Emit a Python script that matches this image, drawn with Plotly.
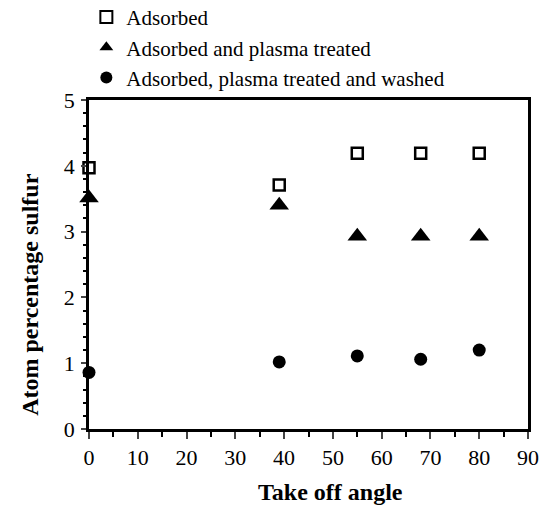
import plotly.graph_objects as go

angles = [0, 39, 55, 68, 80]
adsorbed = [3.97, 3.71, 4.19, 4.19, 4.19]
plasma = [3.51, 3.40, 2.93, 2.93, 2.93]
washed = [0.86, 1.02, 1.11, 1.06, 1.20]
names = ["Adsorbed", "Adsorbed and plasma treated", "Adsorbed, plasma treated and washed"]
x_ticks = [0, 10, 20, 30, 40, 50, 60, 70, 80, 90]
y_ticks = [0, 1, 2, 3, 4, 5]
x_title = "Take off angle"
y_title = "Atom percentage sulfur"

FONT = "Liberation Serif, Times New Roman, serif"

fig = go.Figure()
fig.add_trace(go.Scatter(x=angles, y=adsorbed, mode="markers", name=names[0],
                         marker=dict(symbol="square-open", size=11, color="black", line=dict(width=2.5)),
                         cliponaxis=False))
fig.add_trace(go.Scatter(x=angles, y=plasma, mode="markers", name=names[1],
                         marker=dict(symbol="triangle-up", size=17, color="black"),
                         cliponaxis=False))
fig.add_trace(go.Scatter(x=angles, y=washed, mode="markers", name=names[2],
                         marker=dict(symbol="circle", size=13, color="black"),
                         cliponaxis=False))

fig.update_layout(
    width=544, height=508,
    margin=dict(l=89, r=16, t=100, b=79, autoexpand=False),
    paper_bgcolor="white", plot_bgcolor="white",
    font=dict(family=FONT, size=22, color="black"),
    showlegend=True,
    legend=dict(x=-0.006, y=1.16, xanchor="left", yanchor="middle",
                font=dict(family=FONT, size=21, color="black"),
                bgcolor="rgba(0,0,0,0)", tracegroupgap=0, itemsizing="constant"),
    xaxis=dict(range=[0, 90], tickvals=x_ticks, ticks="outside", ticklen=7, tickwidth=2,
               showline=True, linewidth=2.5, linecolor="black", mirror=True,
               showgrid=False, zeroline=False,
               minor=dict(ticks="outside", dtick=5, ticklen=5, tickwidth=2, tickcolor="black"),
               tickfont=dict(family=FONT, size=22)),
    yaxis=dict(range=[0, 5], tickvals=y_ticks, ticks="outside", ticklen=5, tickwidth=2,
               ticklabelstandoff=2,
               showline=True, linewidth=2.5, linecolor="black", mirror=True,
               showgrid=False, zeroline=False,
               minor=dict(ticks="outside", dtick=0.2, ticklen=3, tickwidth=2, tickcolor="black"),
               tickfont=dict(family=FONT, size=22)),
    annotations=[
        dict(text="<b>" + x_title + "</b>", xref="paper", yref="paper", x=0.55, y=-0.19,
             xanchor="center", yanchor="middle", showarrow=False,
             font=dict(family=FONT, size=24, color="black")),
        dict(text="<b>" + y_title + "</b>", xref="paper", yref="paper", x=-0.135, y=0.41,
             xanchor="center", yanchor="middle", textangle=-90, showarrow=False,
             font=dict(family=FONT, size=24, color="black")),
    ],
)

fig.write_html("out.html", config={"displayModeBar": False},
               post_script="document.body.style.margin='0';")
